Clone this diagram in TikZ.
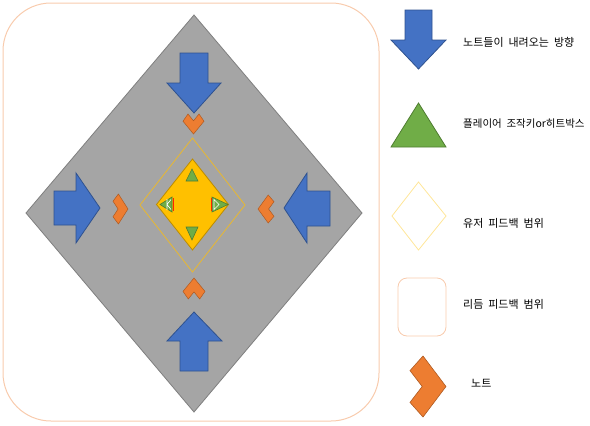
\documentclass[tikz,border=0pt]{standalone}
\usepackage{fontspec}
\newfontfamily\krfont[WordSpace=2]{Noto Sans CJK KR}
\definecolor{grayfill}{HTML}{A5A5A5}
\definecolor{graydraw}{HTML}{7F7F7F}
\definecolor{bluefill}{HTML}{4472C4}
\definecolor{bluedraw}{HTML}{2F528F}
\definecolor{orangefill}{HTML}{ED7D31}
\definecolor{orangedraw}{HTML}{AE5A21}
\definecolor{greenfill}{HTML}{70AD47}
\definecolor{greendraw}{HTML}{507E32}
\definecolor{goldfill}{HTML}{FFC000}
\definecolor{golddraw}{HTML}{BC8C00}
\definecolor{userline}{HTML}{E8B830}
\definecolor{userlegend}{HTML}{FFE699}
\definecolor{rhythmline}{HTML}{F8CBAD}
\begin{document}
\begin{tikzpicture}[x=1pt,y=-1pt,
  bluearrow/.style={fill=bluefill,draw=bluedraw,line width=0.8pt,line join=miter},
  notechev/.style={fill=orangefill,draw=orangedraw,line width=0.5pt},
  greentri/.style={fill=greenfill,draw=greendraw,line width=0.6pt},
  label/.style={font=\krfont\fontsize{11}{13}\selectfont,anchor=west,inner sep=0pt}]
\useasboundingbox (0,0) rectangle (590,426);
% rhythm feedback range (big rounded rectangle)
\draw[rhythmline,line width=1pt,rounded corners=48pt] (3,3) rectangle (379,421);
% gray play field
\draw[fill=grayfill,draw=graydraw,line width=0.8pt] (194,15) -- (362,213) -- (194,412) -- (26,213) -- cycle;
% blue arrows
\draw[bluearrow] (180,53) -- (208,53) -- (208,83) -- (221,83) -- (194,113) -- (167,83) -- (180,83) -- cycle;
\draw[bluearrow] (180,371) -- (208,371) -- (208,341) -- (222,341) -- (194,312) -- (167,341) -- (180,341) -- cycle;
\draw[bluearrow] (54,191) -- (54,225) -- (76,225) -- (76,243) -- (100,208) -- (76,173) -- (76,191) -- cycle;
\draw[bluearrow] (330,191) -- (330,226) -- (307,226) -- (307,243) -- (284,208) -- (307,173) -- (307,191) -- cycle;
% notes (chevrons)
\draw[notechev] (188,114) -- (183,121.2) -- (193.5,134) -- (204,121.2) -- (199,114) -- (193.5,120.8) -- cycle;
\draw[notechev] (188.3,299) -- (183,291.4) -- (194,278) -- (205,291.4) -- (199.7,299) -- (194,291.9) -- cycle;
\draw[notechev] (113,201.2) -- (118.4,194) -- (128,209) -- (118.4,224) -- (113,216.8) -- (118.1,209) -- cycle;
\draw[notechev] (274,201.7) -- (268.2,195) -- (258,209) -- (268.2,223) -- (274,216.3) -- (268.6,209) -- cycle;
% user feedback range
\draw[userline,line width=0.8pt] (192.5,138) -- (245,205) -- (192.5,272) -- (140,205) -- cycle;
% gold hit area
\draw[fill=goldfill,draw=golddraw,line width=0.8pt] (192.5,159) -- (228.5,204.5) -- (192.5,250) -- (156.5,204.5) -- cycle;
% green keys
\draw[greentri] (192,169) -- (198,181) -- (186,181) -- cycle;
\draw[greentri] (186,227) -- (198,227) -- (192,240) -- cycle;
\draw[greentri] (160,204.5) -- (172,197) -- (172,212) -- cycle;
\draw[greentri] (228,204.5) -- (212,197) -- (212,212) -- cycle;
\draw[white,line width=0.6pt] (167,199) -- (167,210) (171,199.5) -- (167,204.5) -- (171,209.5);
\draw[white,line width=0.6pt] (214,199) -- (214,210) (214,199.5) -- (219,204.5) -- (214,209.5);
\draw[red!70!orange,line width=0.7pt] (173.5,198) -- (173.5,211);
\draw[red!70!orange,line width=0.7pt] (211.5,198) -- (211.5,211);
% legend
\draw[bluearrow] (405,10) -- (432,10) -- (432,40) -- (446,40) -- (418.5,69) -- (391,40) -- (405,40) -- cycle;
\node[label] (l1) at (463,42) {노트들이 내려오는 방향};
\draw[greentri,line width=0.8pt] (418.5,103) -- (446,147) -- (391,147) -- cycle;
\node[label,font=\krfont\fontsize{10.5}{13}\selectfont] (l2) at (463,124) {플레이어 조작키or히트박스};
\draw[userlegend,line width=0.8pt] (418.5,182) -- (446,216) -- (418.5,250) -- (392,216) -- cycle;
\node[label] (l3) at (463,223) {유저 피드백 범위};
\draw[rhythmline,line width=0.8pt,rounded corners=9pt] (398,278) rectangle (446,336);
\node[label] (l4) at (463,304) {리듬 피드백 범위};
\draw[notechev,line width=0.6pt] (410,370.6) -- (423,356) -- (446,386.5) -- (423,417) -- (410,402.4) -- (422.2,386.5) -- cycle;
\node[label] (l5) at (471,383) {노트};
\end{tikzpicture}
\end{document}
